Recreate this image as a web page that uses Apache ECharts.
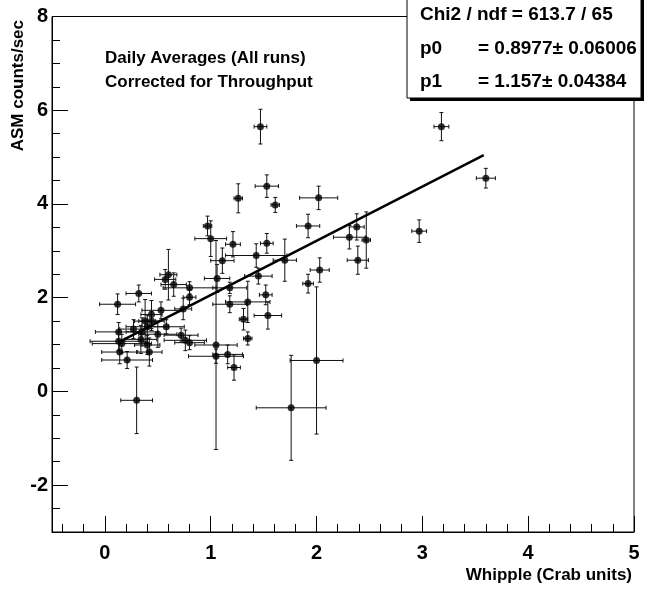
<!DOCTYPE html>
<html>
<head>
<meta charset="utf-8">
<script src="https://cdn.jsdelivr.net/npm/echarts@6/dist/echarts.min.js"></script>
<style>
  html, body { margin: 0; background: #fff; }
  #chart { width: 663px; height: 591px; }
</style>
</head>
<body>
<div id="chart"></div>
<script>
// Whipple flux (Crab units) vs ASM rate, daily averages
const whipple = [
  0.60, 0.57, 0.65, 0.80, 0.80, 0.32, 0.12, 0.74, 0.53, 0.44,
  0.38, 0.44, 0.27, 0.40, 0.58, 0.35, 0.50, 0.13, 0.13, 0.16,
  0.34, 0.40, 0.72, 0.76, 0.80, 0.14, 0.42, 0.21, 0.30, 1.05,
  1.05, 1.16, 1.22, 1.06, 1.18, 1.18, 1.11, 1.47, 1.53, 1.26,
  1.61, 2.02, 1.92, 0.97, 1.00, 1.21, 1.53, 1.43, 1.70, 2.31,
  2.38, 2.47, 2.39, 2.03, 1.45, 1.35, 1.52, 1.54, 1.31, 1.35,
  1.92, 2.00, 1.76, 2.97, 3.60, 3.18
]
const whippleErr = [
  0.08, 0.10, 0.12, 0.25, 0.06, 0.12, 0.17, 0.08, 0.18, 0.10,
  0.10, 0.12, 0.13, 0.20, 0.17, 0.15, 0.18, 0.22, 0.27, 0.28,
  0.15, 0.12, 0.16, 0.20, 0.14, 0.17, 0.12, 0.24, 0.15, 0.20,
  0.26, 0.14, 0.06, 0.12, 0.16, 0.16, 0.11, 0.06, 0.11, 0.04,
  0.04, 0.18, 0.11, 0.04, 0.15, 0.07, 0.06, 0.29, 0.11, 0.15,
  0.07, 0.04, 0.10, 0.09, 0.13, 0.21, 0.06, 0.13, 0.04, 0.04,
  0.05, 0.25, 0.33, 0.07, 0.09, 0.07
]
const asm = [
  2.49, 2.39, 2.28, 2.21, 2.01, 2.09, 1.86, 1.76, 1.73, 1.64,
  1.50, 1.50, 1.33, 1.38, 1.38, 1.27, 1.22, 1.27, 1.07, 1.02,
  1.11, 0.99, 1.20, 1.09, 1.04, 0.84, 0.84, 0.67, -0.19, 0.99,
  0.75, 0.79, 0.51, 2.41, 2.21, 1.86, 2.79, 5.65, 4.38, 4.12,
  3.98, 4.13, 3.53, 3.53, 3.26, 3.14, 3.16, 2.90, 2.80, 3.29,
  3.51, 3.23, 2.80, 2.59, 2.46, 1.91, 2.06, 1.62, 1.54, 1.13,
  2.30, 0.66, -0.35, 3.42, 4.55, 5.65
]
const asmErr = [
  0.54, 0.21, 0.25, 0.13, 0.16, 0.18, 0.22, 0.23, 0.18, 0.30,
  0.46, 0.20, 0.20, 0.25, 0.15, 0.30, 0.28, 0.20, 0.20, 0.20,
  0.30, 0.20, 0.15, 0.22, 0.15, 0.25, 0.30, 0.18, 0.71, 2.23,
  0.15, 0.20, 0.27, 0.30, 0.12, 0.18, 0.27, 0.37, 0.24, 0.31,
  0.16, 0.25, 0.25, 0.21, 0.38, 0.27, 0.21, 0.25, 0.45, 0.25,
  0.28, 0.60, 0.30, 0.26, 0.17, 0.44, 0.21, 0.29, 0.23, 0.14,
  0.20, 1.57, 1.12, 0.24, 0.21, 0.30
]

// linear fit p0 + p1*x, drawn over the data range
const p0 = 0.8977
const p1 = 1.157
const fitRange = [0.155, 3.58]

const xMajor = [0, 1, 2, 3, 4, 5]
const xMinor = [-0.4, -0.2, 0.2, 0.4, 0.6, 0.8, 1.2, 1.4, 1.6, 1.8, 2.2, 2.4, 2.6, 2.8,
  3.2, 3.4, 3.6, 3.8, 4.2, 4.4, 4.6, 4.8]
const yMajor = [-2, 0, 2, 4, 6, 8]
const yMinor = [-2.5, -1.5, -1, -0.5, 0.5, 1, 1.5, 2.5, 3, 3.5, 4.5, 5, 5.5, 6.5, 7, 7.5]

const statLines = [
  ['Chi2 / ndf = 613.7 / 65', ''],
  ['p0', '= 0.8977\u00b1 0.06006'],
  ['p1', '= 1.157\u00b1 0.04384']
]

const font = '"Liberation Sans", Arial, Helvetica, sans-serif'

const chart = echarts.init(document.getElementById('chart'))

const errData = whipple.map((x, i) => [x, asm[i], whippleErr[i], asmErr[i]])
const pointData = whipple.map((x, i) => [x, asm[i]])
const fitData = fitRange.map(x => [x, p0 + p1 * x])

const renderErr = (params, api) => {
  const x = api.value(0)
  const y = api.value(1)
  const ex = api.value(2)
  const ey = api.value(3)
  const c = api.coord([x, y])
  const l = api.coord([x - ex, y])
  const r = api.coord([x + ex, y])
  const t = api.coord([x, y + ey])
  const b = api.coord([x, y - ey])
  const cap = 2
  const st = { stroke: '#111', lineWidth: 1 }
  const seg = (x1, y1, x2, y2) => ({ type: 'line', shape: { x1, y1, x2, y2 }, style: st })
  return {
    type: 'group',
    children: [
      seg(l[0], c[1], r[0], c[1]),
      seg(c[0], t[1], c[0], b[1]),
      seg(l[0], c[1] - cap, l[0], c[1] + cap),
      seg(r[0], c[1] - cap, r[0], c[1] + cap),
      seg(c[0] - cap, t[1], c[0] + cap, t[1]),
      seg(c[0] - cap, b[1], c[0] + cap, b[1])
    ]
  }
}

const labelStyle = {
  color: '#000',
  fontFamily: font,
  fontWeight: 'bold',
  fontSize: 20
}

const option = {
  backgroundColor: '#fff',
  animation: false,
  grid: {
    left: 52,
    right: 29,
    top: 16.5,
    bottom: 59,
    show: true,
    borderColor: '#000',
    borderWidth: 1
  },
  xAxis: [
    {
      type: 'value',
      min: -0.5,
      max: 5,
      position: 'bottom',
      axisLine: { show: true, onZero: false, lineStyle: { color: '#000', width: 1 } },
      axisTick: { show: true, inside: true, length: 16, customValues: xMajor, lineStyle: { color: '#000' } },
      axisLabel: { ...labelStyle, customValues: xMajor, margin: 11 },
      splitLine: { show: false }
    },
    {
      type: 'value',
      min: -0.5,
      max: 5,
      position: 'bottom',
      axisLine: { show: false, onZero: false },
      axisTick: { show: true, inside: true, length: 8, customValues: xMinor, lineStyle: { color: '#000' } },
      axisLabel: { show: false },
      splitLine: { show: false }
    }
  ],
  yAxis: [
    {
      type: 'value',
      min: -3,
      max: 8,
      position: 'left',
      axisLine: { show: true, onZero: false, lineStyle: { color: '#000', width: 1 } },
      axisTick: { show: true, inside: true, length: 16, customValues: yMajor, lineStyle: { color: '#000' } },
      axisLabel: { ...labelStyle, customValues: yMajor, margin: 4 },
      splitLine: { show: false }
    },
    {
      type: 'value',
      min: -3,
      max: 8,
      position: 'left',
      axisLine: { show: false, onZero: false },
      axisTick: { show: true, inside: true, length: 8, customValues: yMinor, lineStyle: { color: '#000' } },
      axisLabel: { show: false },
      splitLine: { show: false }
    }
  ],
  series: [
    {
      type: 'custom',
      data: errData,
      encode: { x: 0, y: 1 },
      renderItem: renderErr,
      z: 2
    },
    {
      type: 'scatter',
      data: pointData,
      symbol: 'circle',
      symbolSize: 7,
      itemStyle: { color: '#000' },
      z: 3
    },
    {
      type: 'line',
      data: fitData,
      symbol: 'none',
      lineStyle: { color: '#000', width: 2.5 },
      z: 4
    }
  ],
  graphic: [
    {
      type: 'text',
      x: 105, y: 58,
      style: { text: 'Daily Averages (All runs)', font: 'bold 17px ' + font, fill: '#000', verticalAlign: 'middle' }
    },
    {
      type: 'text',
      x: 105, y: 82,
      style: { text: 'Corrected for Throughput', font: 'bold 17px ' + font, fill: '#000', verticalAlign: 'middle' }
    },
    {
      type: 'text',
      x: 18, y: 20,
      rotation: Math.PI / 2,
      style: { text: 'ASM counts/sec', font: 'bold 17px ' + font, fill: '#000', align: 'right', verticalAlign: 'middle' }
    },
    {
      type: 'text',
      x: 632, y: 575,
      style: { text: 'Whipple (Crab units)', font: 'bold 17px ' + font, fill: '#000', align: 'right', verticalAlign: 'middle' }
    },
    // stats box with ROOT-style shadow
    {
      type: 'rect',
      z: 100,
      shape: { x: 410, y: -7, width: 234, height: 108 },
      style: { fill: '#000' }
    },
    {
      type: 'rect',
      z: 101,
      shape: { x: 407, y: -10, width: 234, height: 108 },
      style: { fill: '#fff', stroke: '#000', lineWidth: 1 }
    },
    ...statLines.flatMap((row, i) => {
      const y = [15, 49, 82][i]
      const out = [{
        type: 'text', z: 102, x: 420, y,
        style: { text: row[0], font: 'bold 19px ' + font, fill: '#000', verticalAlign: 'middle' }
      }]
      if (row[1]) {
        out.push({
          type: 'text', z: 102, x: 478, y,
          style: { text: row[1], font: 'bold 19px ' + font, fill: '#000', verticalAlign: 'middle' }
        })
      }
      return out
    })
  ]
}

chart.setOption(option)
</script>
</body>
</html>
